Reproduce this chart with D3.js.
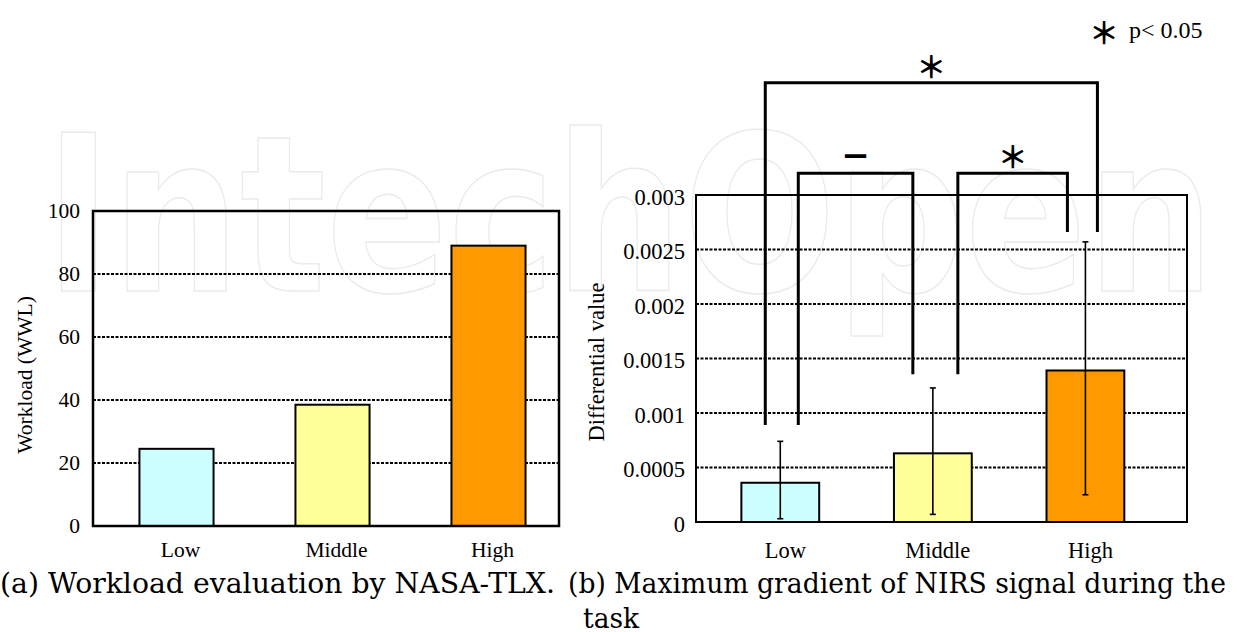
<!DOCTYPE html>
<html>
<head>
<meta charset="utf-8">
<script src="https://cdn.jsdelivr.net/npm/d3@7"></script>
<style>
  html, body { margin: 0; padding: 0; background: #fff; }
  svg { display: block; }
</style>
</head>
<body>
<div id="chart"></div>
<script>
/*  Data  */
var categories = ["Low", "Middle", "High"];

// (a) NASA-TLX weighted workload
var workload = [24.5, 38.5, 89];
var workloadTicks = [0, 20, 40, 60, 80, 100];
var workloadGrid = [20, 40, 60, 80];

// (b) maximum gradient of NIRS signal, with error bar ends
var gradient = [0.00036, 0.00063, 0.00139];
var gradientUpper = [0.00074, 0.00123, 0.00257];
var gradientLower = [0.00003, 0.00007, 0.00025];
var gradientTicks = [0, 0.0005, 0.001, 0.0015, 0.002, 0.0025, 0.003];
var gradientGrid = [0.0005, 0.001, 0.0015, 0.002, 0.0025];

// significance pairs (category indexes) and their marks
var pairFrom = [0, 0, 1];
var pairTo = [2, 1, 2];
var pairMark = ["\uFF0A", "\u2212", "\uFF0A"];

var barColors = ["#ccffff", "#ffff99", "#ff9900"];
var serif = "'Liberation Serif', 'Times New Roman', serif";

/*  Drawing  */
var W = 1237, H = 632;
var svg = d3.select("#chart").append("svg")
  .attr("xmlns", "http://www.w3.org/2000/svg")
  .attr("width", W).attr("height", H);

// watermark behind everything
svg.append("text")
  .attr("x", 45).attr("y", 291)
  .attr("textLength", 1170).attr("lengthAdjust", "spacingAndGlyphs")
  .style("font-family", "'DejaVu Sans', sans-serif")
  .style("font-weight", "bold")
  .style("font-size", "217px")
  .style("fill", "none")
  .style("stroke", "#ebebeb")
  .style("stroke-width", 1.5)
  .text("IntechOpen");

function dashedGrid(g, values, y, x0, x1) {
  g.selectAll("line.grid").data(values).enter().append("line")
    .attr("class", "grid")
    .attr("x1", x0).attr("x2", x1)
    .attr("y1", function(d){ return y(d); })
    .attr("y2", function(d){ return y(d); })
    .style("stroke", "#000")
    .style("stroke-width", 2)
    .style("stroke-dasharray", "3,1.5");
}

function frame(g, x0, y0, x1, y1, w) {
  g.append("rect")
    .attr("x", x0).attr("y", y0)
    .attr("width", x1 - x0).attr("height", y1 - y0)
    .style("fill", "none").style("stroke", "#000").style("stroke-width", w);
}

function axisText(sel, size) {
  sel.selectAll("text")
    .style("font-family", serif)
    .style("font-size", size)
    .style("fill", "#000");
}

/* ---------- (a) ---------- */
var A = { left: 93, right: 559, top: 211, bottom: 526 };
var xa = d3.scaleBand().domain(categories).range([98.5, 566.5]).paddingInner(0.525).paddingOuter(0.2625);
var ya = d3.scaleLinear().domain([0, 100]).range([A.bottom, A.top]);
var ga = svg.append("g");

dashedGrid(ga, workloadGrid, ya, A.left, A.right);

ga.selectAll("rect.bar").data(workload).enter().append("rect")
  .attr("class", "bar")
  .attr("x", function(d, i){ return xa(categories[i]); })
  .attr("width", xa.bandwidth())
  .attr("y", function(d){ return ya(d); })
  .attr("height", function(d){ return ya(0) - ya(d); })
  .style("fill", function(d, i){ return barColors[i]; })
  .style("stroke", "#000").style("stroke-width", 2);

frame(ga, A.left, A.top, A.right, A.bottom, 2.5);

ga.append("g")
  .attr("transform", "translate(" + A.left + ",0)")
  .call(d3.axisLeft(ya).tickValues(workloadTicks).tickSize(0).tickPadding(13))
  .call(function(g){ g.select(".domain").remove(); })
  .call(axisText, "21.5px");

ga.append("g")
  .attr("transform", "translate(4," + A.bottom + ")")
  .call(d3.axisBottom(xa).tickSize(0).tickPadding(16))
  .call(function(g){ g.select(".domain").remove(); })
  .call(axisText, "21.5px");

ga.append("text")
  .attr("transform", "translate(32,375) rotate(-90)")
  .attr("text-anchor", "middle")
  .style("font-family", serif).style("font-size", "21.5px")
  .text("Workload (WWL)");

/* ---------- (b) ---------- */
var B = { left: 696, right: 1187, top: 195, bottom: 522 };
var xb = d3.scaleBand().domain(categories).range([704, 1161.7]).paddingInner(0.49).paddingOuter(0.245);
var yb = d3.scaleLinear().domain([0, 0.003]).range([B.bottom, B.top]);
var gb = svg.append("g");
var cx = function(i){ return xb(categories[i]) + xb.bandwidth() / 2; };

dashedGrid(gb, gradientGrid, yb, B.left, B.right);

gb.selectAll("rect.bar").data(gradient).enter().append("rect")
  .attr("class", "bar")
  .attr("x", function(d, i){ return xb(categories[i]); })
  .attr("width", xb.bandwidth())
  .attr("y", function(d){ return yb(d); })
  .attr("height", function(d){ return yb(0) - yb(d); })
  .style("fill", function(d, i){ return barColors[i]; })
  .style("stroke", "#000").style("stroke-width", 2);

// error bars
var eb = gb.selectAll("g.err").data(gradient).enter().append("g").attr("class", "err");
eb.append("line")
  .attr("x1", function(d, i){ return cx(i); }).attr("x2", function(d, i){ return cx(i); })
  .attr("y1", function(d, i){ return yb(gradientUpper[i]); })
  .attr("y2", function(d, i){ return yb(gradientLower[i]); });
eb.append("line")
  .attr("x1", function(d, i){ return cx(i) - 3; }).attr("x2", function(d, i){ return cx(i) + 3; })
  .attr("y1", function(d, i){ return yb(gradientUpper[i]); })
  .attr("y2", function(d, i){ return yb(gradientUpper[i]); });
eb.append("line")
  .attr("x1", function(d, i){ return cx(i) - 3; }).attr("x2", function(d, i){ return cx(i) + 3; })
  .attr("y1", function(d, i){ return yb(gradientLower[i]); })
  .attr("y2", function(d, i){ return yb(gradientLower[i]); });
eb.selectAll("line").style("stroke", "#000").style("stroke-width", 1.6);

frame(gb, B.left, B.top, B.right, B.bottom, 2);

gb.append("g")
  .attr("transform", "translate(" + B.left + ",0)")
  .call(d3.axisLeft(yb).tickValues(gradientTicks).tickFormat(function(d){ return String(+d.toFixed(4)); }).tickSize(0).tickPadding(11))
  .call(function(g){ g.select(".domain").remove(); })
  .call(axisText, "22.5px")
  .selectAll("text").attr("dy", "0.42em");

gb.append("g")
  .attr("transform", "translate(5," + B.bottom + ")")
  .call(d3.axisBottom(xb).tickSize(0).tickPadding(20))
  .call(function(g){ g.select(".domain").remove(); })
  .call(axisText, "22.5px");

gb.append("text")
  .attr("transform", "translate(604,362) rotate(-90)")
  .attr("text-anchor", "middle")
  .style("font-family", serif).style("font-size", "22.5px")
  .text("Differential value");

// significance brackets: top level, leg ends and leg offsets from bar centres
var bTop = [0.00403, 0.0032, 0.0032];
var bLegA = [0.00089, 0.00089, 0.001355];
var bLegB = [0.00266, 0.001355, 0.00266];
var bOffA = [-15, 18, 25];
var bOffB = [12, -20, -18];

pairFrom.forEach(function(a, k){
  var b = pairTo[k];
  var xA = cx(a) + bOffA[k], xB = cx(b) + bOffB[k];
  gb.append("path")
    .attr("d", "M" + xA + "," + yb(bLegA[k]) + "V" + yb(bTop[k]) + "H" + xB + "V" + yb(bLegB[k]))
    .style("fill", "none").style("stroke", "#000").style("stroke-width", 3);
  gb.append("text")
    .attr("x", (xA + xB) / 2)
    .attr("y", yb(bTop[k]) - 18)
    .attr("text-anchor", "middle")
    .attr("dominant-baseline", "central")
    .style("font-family", pairMark[k] === "\u2212" ? "'DejaVu Sans', sans-serif" : "'Noto Sans CJK JP', sans-serif")
    .style("font-weight", "bold")
    .style("font-size", pairMark[k] === "\u2212" ? "34px" : "30px")
    .text(pairMark[k]);
});

// legend
svg.append("text")
  .attr("x", 1104).attr("y", 31)
  .attr("text-anchor", "middle").attr("dominant-baseline", "central")
  .style("font-family", "'Noto Sans CJK JP', sans-serif")
  .style("font-weight", "bold").style("font-size", "30px")
  .text("\uFF0A");
svg.append("text")
  .attr("x", 1129).attr("y", 38)
  .style("font-family", serif).style("font-size", "24px")
  .text("p< 0.05");

/* ---------- captions ---------- */
var capFont = "'DejaVu Serif', serif";
function caption(x, y, w, t) {
  svg.append("text").attr("x", x).attr("y", y)
    .attr("textLength", w).attr("lengthAdjust", "spacingAndGlyphs")
    .style("font-family", capFont).style("font-size", "27.5px").text(t);
}
caption(0, 593, 555, "(a) Workload evaluation by NASA-TLX.");
caption(568, 593, 658, "(b) Maximum gradient of NIRS signal during the");
caption(583, 628, 56, "task");
</script>
</body>
</html>
